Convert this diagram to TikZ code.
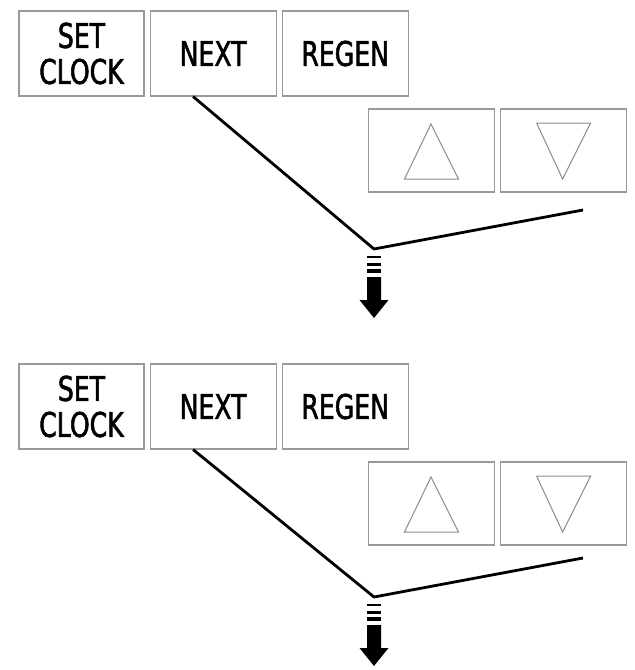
\documentclass[tikz,border=0pt]{standalone}
\usepackage{fontspec}
\setmainfont{DejaVu Sans}[FakeStretch=0.74, FakeBold=1.6]
\usetikzlibrary{calc, positioning}

\tikzset{
  key/.style={draw=black!40, line width=1.1pt, minimum width=126pt, minimum height=85pt,
    inner sep=0pt, align=center, font=\fontsize{34}{36}\selectfont},
  arrowkey/.style={draw=black!40, line width=1.1pt, minimum width=126pt, minimum height=83pt, inner sep=0pt},
  tri/.style={draw=black!45, line width=1pt},
  lead/.style={line width=2.8pt, line join=round},
}

\begin{document}
\begin{tikzpicture}[x=1pt, y=-1pt]
  \useasboundingbox (0,0) rectangle (635,670);
  \foreach \g/\by/\ly in {a/0/0, b/353/348} {
    % buttons
    \node[key, minimum width=125pt] (set\g) at (81.5, 53.5+\by) {SET\\CLOCK};
    \node[key, right=5pt of set\g] (next\g) {NEXT};
    \node[key, right=5pt of next\g] (regen\g) {REGEN};
    \node[arrowkey] (up\g) at (431.5, 150.5+\by) {};
    \node[arrowkey, right=5pt of up\g] (down\g) {};
    \draw[tri] ($(up\g)+(-0.5,-26.5)$) -- ($(up\g)+(-27,28.5)$) -- ($(up\g)+(27,28.5)$) -- cycle;
    \draw[tri] ($(down\g)+(-27,-27.5)$) -- ($(down\g)+(27,-27.5)$) -- ($(down\g)+(-1,28.5)$) -- cycle;
    % leader lines
    \coordinate (v\g) at (374, 249+\ly);
    \coordinate (e\g) at (583, 210+\ly);
    \draw[lead] ([xshift=-20pt]next\g.south) -- (v\g) -- (e\g);
    % arrow
    \foreach \t/\b in {7/8.5, 14/16.5, 20/24}
      \fill ($(v\g)+(-7,\t)$) rectangle ($(v\g)+(7,\b)$);
    \fill ($(v\g)+(-7,28)$) -- ($(v\g)+(7,28)$) -- ($(v\g)+(7,51)$) -- ($(v\g)+(14.5,51)$)
      -- ($(v\g)+(0,69)$) -- ($(v\g)+(-14.5,51)$) -- ($(v\g)+(-7,51)$) -- cycle;
  }
\end{tikzpicture}
\end{document}
